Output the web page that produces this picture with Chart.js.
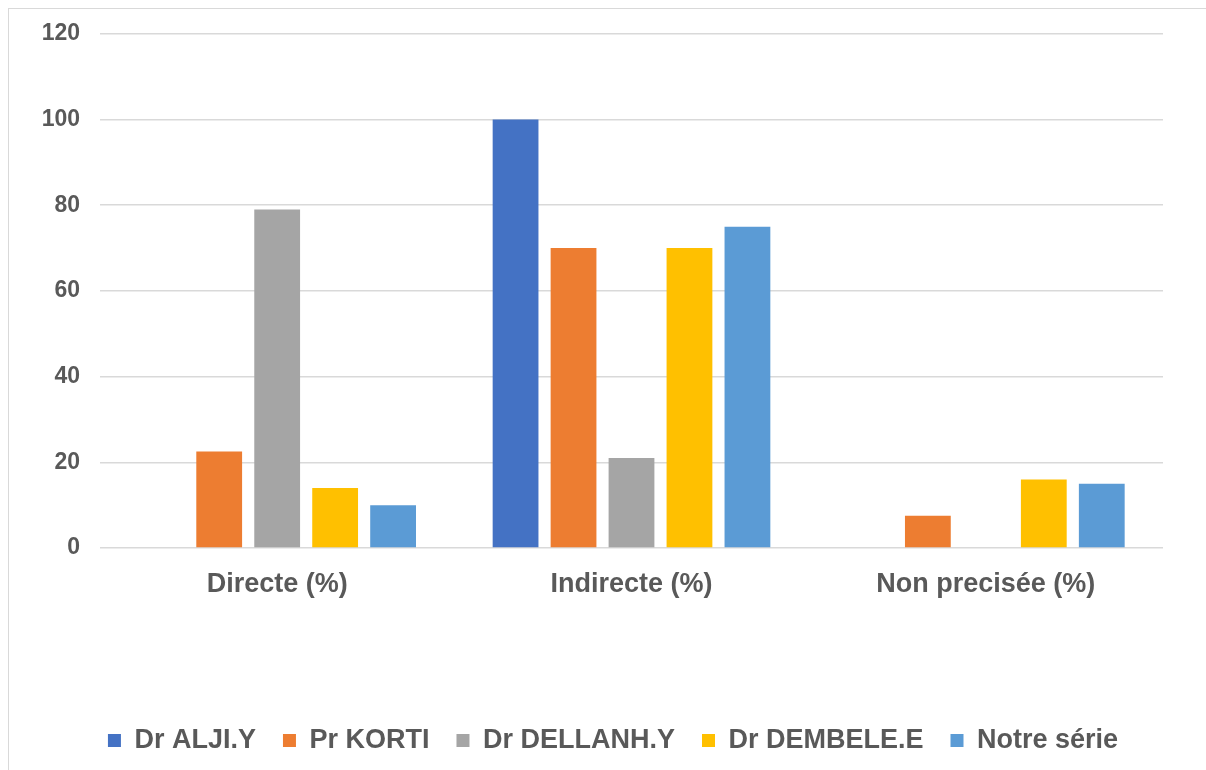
<!DOCTYPE html>
<html>
<head>
<meta charset="utf-8">
<script src="https://cdn.jsdelivr.net/npm/chart.js@4"></script>
<style>
  html, body { margin: 0; padding: 0; background: #fff; overflow: hidden; }
  #wrap { position: relative; width: 1206px; height: 800px; }
  #frame {
    position: absolute; left: 8px; top: 8px; width: 1300px; height: 900px;
    border: 1.5px solid #d9d9d9; pointer-events: none; box-sizing: border-box;
  }
</style>
</head>
<body>
<div id="wrap">
  <canvas id="chart" width="1206" height="800"></canvas>
  <div id="frame"></div>
</div>
<script>
  const categories = ["Directe (%)", "Indirecte (%)", "Non precisée (%)"];
  const seriesNames = ["Dr ALJI.Y", "Pr KORTI", "Dr DELLANH.Y", "Dr DEMBELE.E", "Notre série"];
  const alji = [0, 100, 0];
  const korti = [22.5, 70, 7.5];
  const dellanh = [79, 21, 0];
  const dembele = [14, 70, 16];
  const notreSerie = [10, 75, 15];
  const yTicks = [0, 20, 40, 60, 80, 100, 120];

  const colors = ["#4472C4", "#ED7D31", "#A5A5A5", "#FFC000", "#5B9BD5"];
  const values = [alji, korti, dellanh, dembele, notreSerie];
  const textColor = "#595959";
  const fontFamily = "'Liberation Sans', Arial, sans-serif";

  const datasets = seriesNames.map((name, i) => ({
    label: name,
    data: values[i],
    backgroundColor: colors[i],
    borderWidth: 0,
    categoryPercentage: 0.818,
    barPercentage: 0.79
  }));

  new Chart(document.getElementById("chart"), {
    type: "bar",
    data: { labels: categories, datasets },
    options: {
      responsive: false,
      animation: false,
      layout: { padding: { top: 13, right: 0, bottom: 36, left: 20 } },
      plugins: {
        tooltip: { enabled: false },
        legend: {
          position: "bottom",
          labels: {
            color: textColor,
            font: { family: fontFamily, size: 27, weight: "bold" },
            boxWidth: 13,
            boxHeight: 13,
            padding: 27
          }
        }
      },
      scales: {
        x: {
          grid: { display: false },
          border: { display: false },
          ticks: {
            color: textColor,
            padding: 12,
            font: { family: fontFamily, size: 27, weight: "bold" }
          },
          afterFit: (scale) => { scale.height = 152; }
        },
        y: {
          min: 0,
          max: 120,
          afterBuildTicks: (scale) => { scale.ticks = yTicks.map(v => ({ value: v })); },
          grid: { color: "#d9d9d9", lineWidth: 1.5, drawTicks: false },
          border: { display: false },
          ticks: {
            color: textColor,
            padding: 20,
            font: { family: fontFamily, size: 23, weight: "bold" }
          },
          afterFit: (scale) => { scale.width = 80; }
        },
        // empty margin on the right of the plot
        yRight: {
          position: "right",
          grid: { display: false },
          border: { display: false },
          ticks: { display: false },
          afterFit: (scale) => { scale.width = 43; }
        }
      }
    }
  });
</script>
</body>
</html>
